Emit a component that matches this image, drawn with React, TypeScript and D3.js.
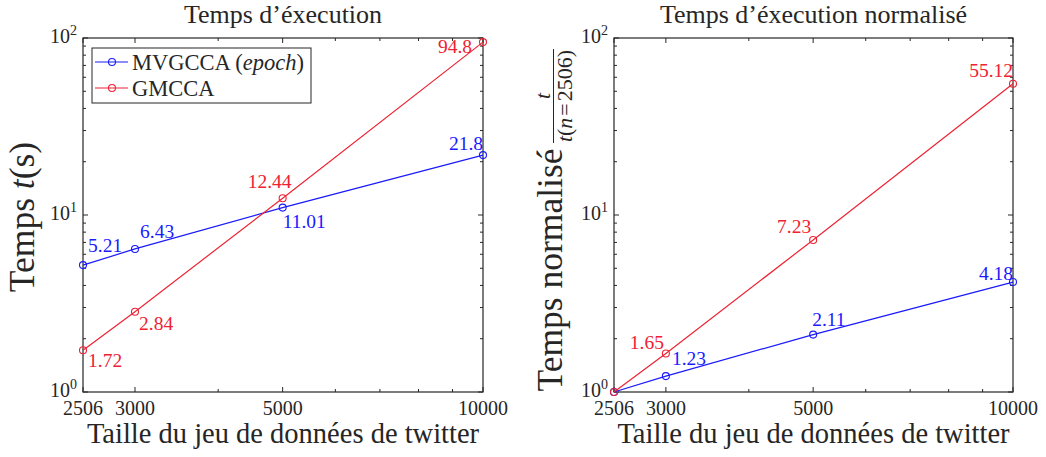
import React from "react";
import * as d3 from "d3";

const sizes = [2506, 3000, 5000, 10000];
const xTickValues = [2506, 3000, 5000, 10000];
const mvgccaTime = [5.21, 6.43, 11.01, 21.8];
const gmccaTime = [1.72, 2.84, 12.44, 94.8];
const mvgccaNorm = [1, 1.23, 2.11, 4.18];
const gmccaNorm = [1, 1.65, 7.23, 55.12];
const yDomain = [1, 100];
const yTickValues = [1, 10, 100];

const BLUE = "#1a1aff";
const RED = "#ee2233";
const AX = "#262626";
const FONT = "Liberation Serif, DejaVu Serif, serif";

type Lab = { dx: number; dy: number; anchor: "start" | "middle" | "end"; show?: boolean };

const leftBlueLabels: Lab[] = [
  { dx: 5, dy: -13, anchor: "start" },
  { dx: 5, dy: -11, anchor: "start" },
  { dx: 0, dy: 20, anchor: "start" },
  { dx: 0, dy: -5, anchor: "end" },
];
const leftRedLabels: Lab[] = [
  { dx: 5, dy: 17, anchor: "start" },
  { dx: 4, dy: 18, anchor: "start" },
  { dx: -13, dy: -10, anchor: "middle" },
  { dx: -11, dy: 11, anchor: "end" },
];
const rightBlueLabels: Lab[] = [
  { dx: 0, dy: 0, anchor: "start", show: false },
  { dx: 6, dy: -11, anchor: "start" },
  { dx: -1, dy: -9, anchor: "start" },
  { dx: 0, dy: -2, anchor: "end" },
];
const rightRedLabels: Lab[] = [
  { dx: 0, dy: 0, anchor: "start", show: false },
  { dx: -2, dy: -5, anchor: "end" },
  { dx: -2, dy: -7, anchor: "end" },
  { dx: 0, dy: -7, anchor: "end" },
];

const TOP = 38;
const BOTTOM = 392;

function Panel(props: {
  x0: number;
  x1: number;
  title: string;
  series: { values: number[]; color: string; labels: Lab[] }[];
}) {
  const { x0, x1, title, series } = props;
  const x = d3.scaleLog().domain([sizes[0], sizes[sizes.length - 1]]).range([x0, x1]);
  const y = d3.scaleLog().domain(yDomain).range([BOTTOM, TOP]);
  const xMinor = x.ticks().filter((t) => !xTickValues.includes(t) && t > sizes[0] && t < sizes[sizes.length - 1]);
  const yMinor = y.ticks().filter((t) => !yTickValues.includes(t));
  const line = d3
    .line<number>()
    .x((_, i) => x(sizes[i]))
    .y((d) => y(d));
  const cx = (x0 + x1) / 2;
  return (
    <g>
      <text x={cx} y={23} textAnchor="middle" fontSize={26} fill={AX}>
        {title}
      </text>
      {xTickValues.map((t) => (
        <g key={"xt" + t}>
          <line x1={x(t)} x2={x(t)} y1={BOTTOM} y2={BOTTOM - 5} stroke={AX} />
          <line x1={x(t)} x2={x(t)} y1={TOP} y2={TOP + 5} stroke={AX} />
          <text x={x(t)} y={415} textAnchor="middle" fontSize={20} fill={AX}>
            {t}
          </text>
        </g>
      ))}
      {xMinor.map((t) => (
        <g key={"xm" + t}>
          <line x1={x(t)} x2={x(t)} y1={BOTTOM} y2={BOTTOM - 3} stroke={AX} />
          <line x1={x(t)} x2={x(t)} y1={TOP} y2={TOP + 3} stroke={AX} />
        </g>
      ))}
      {yTickValues.map((t) => (
        <g key={"yt" + t}>
          <line x1={x0} x2={x0 + 5} y1={y(t)} y2={y(t)} stroke={AX} />
          <line x1={x1} x2={x1 - 5} y1={y(t)} y2={y(t)} stroke={AX} />
          <text x={x0 - 6} y={y(t) + 5} textAnchor="end" fontSize={20} fill={AX}>
            10
            <tspan fontSize={14} dy={-8}>
              {Math.round(Math.log10(t))}
            </tspan>
          </text>
        </g>
      ))}
      {yMinor.map((t) => (
        <g key={"ym" + t}>
          <line x1={x0} x2={x0 + 3} y1={y(t)} y2={y(t)} stroke={AX} />
          <line x1={x1} x2={x1 - 3} y1={y(t)} y2={y(t)} stroke={AX} />
        </g>
      ))}
      <rect x={x0} y={TOP} width={x1 - x0} height={BOTTOM - TOP} fill="none" stroke={AX} strokeWidth={1.2} />
      {series.map((s, si) => (
        <g key={"s" + si}>
          <path d={line(s.values) || ""} fill="none" stroke={s.color} strokeWidth={1.2} />
          {s.values.map((v, i) => (
            <circle key={i} cx={x(sizes[i])} cy={y(v)} r={3.5} fill="none" stroke={s.color} strokeWidth={1.1} />
          ))}
          {s.values.map((v, i) =>
            s.labels[i].show === false ? null : (
              <text
                key={"l" + i}
                x={x(sizes[i]) + s.labels[i].dx}
                y={y(v) + s.labels[i].dy}
                textAnchor={s.labels[i].anchor}
                fontSize={19.5}
                fill={s.color}
              >
                {String(v)}
              </text>
            )
          )}
        </g>
      ))}
      <text x={cx} y={443} textAnchor="middle" fontSize={28.5} fill={AX}>
        Taille du jeu de données de twitter
      </text>
    </g>
  );
}

export default function App() {
  return (
    <svg
      width={1046}
      height={457}
      style={{ position: "absolute", left: 0, top: 0, background: "#fff", fontFamily: FONT }}
    >
      <rect width={1046} height={457} fill="#fff" />
      <Panel
        x0={83}
        x1={483}
        title="Temps d’éxecution"
        series={[
          { values: mvgccaTime, color: BLUE, labels: leftBlueLabels },
          { values: gmccaTime, color: RED, labels: leftRedLabels },
        ]}
      />
      <Panel
        x0={614}
        x1={1013}
        title="Temps d’éxecution normalisé"
        series={[
          { values: mvgccaNorm, color: BLUE, labels: rightBlueLabels },
          { values: gmccaNorm, color: RED, labels: rightRedLabels },
        ]}
      />
      <g fontSize={22.5} fill={AX}>
        <rect x={92} y={48} width={219} height={55} fill="#fff" stroke={AX} strokeWidth={1} />
        <line x1={95} x2={128} y1={62} y2={62} stroke={BLUE} strokeWidth={1.2} />
        <circle cx={112} cy={62} r={3.5} fill="none" stroke={BLUE} strokeWidth={1.1} />
        <text x={132} y={69.5}>
          MVGCCA (<tspan fontStyle="italic">epoch</tspan>)
        </text>
        <line x1={95} x2={128} y1={88} y2={88} stroke={RED} strokeWidth={1.2} />
        <circle cx={112} cy={88} r={3.5} fill="none" stroke={RED} strokeWidth={1.1} />
        <text x={132} y={95.5}>GMCCA</text>
      </g>
      <text transform="translate(34,217) rotate(-90)" textAnchor="middle" fontSize={35.5} fill={AX}>
        Temps <tspan fontStyle="italic">t</tspan>(s)
      </text>
      <text transform="translate(562,270) rotate(-90)" textAnchor="middle" fontSize={35.5} fill={AX}>
        Temps normalisé
      </text>
      <g fill={AX}>
        <text transform="translate(550,96) rotate(-90)" textAnchor="middle" fontSize={22} fontStyle="italic">
          t
        </text>
        <line x1={553.5} x2={553.5} y1={49} y2={143} stroke={AX} strokeWidth={1} />
        <text transform="translate(572,96) rotate(-90)" textAnchor="middle" fontSize={22}>
          <tspan fontStyle="italic">t</tspan>(<tspan fontStyle="italic">n</tspan>
          <tspan dx={2}>=</tspan>
          <tspan dx={2}>2506)</tspan>
        </text>
      </g>
    </svg>
  );
}
